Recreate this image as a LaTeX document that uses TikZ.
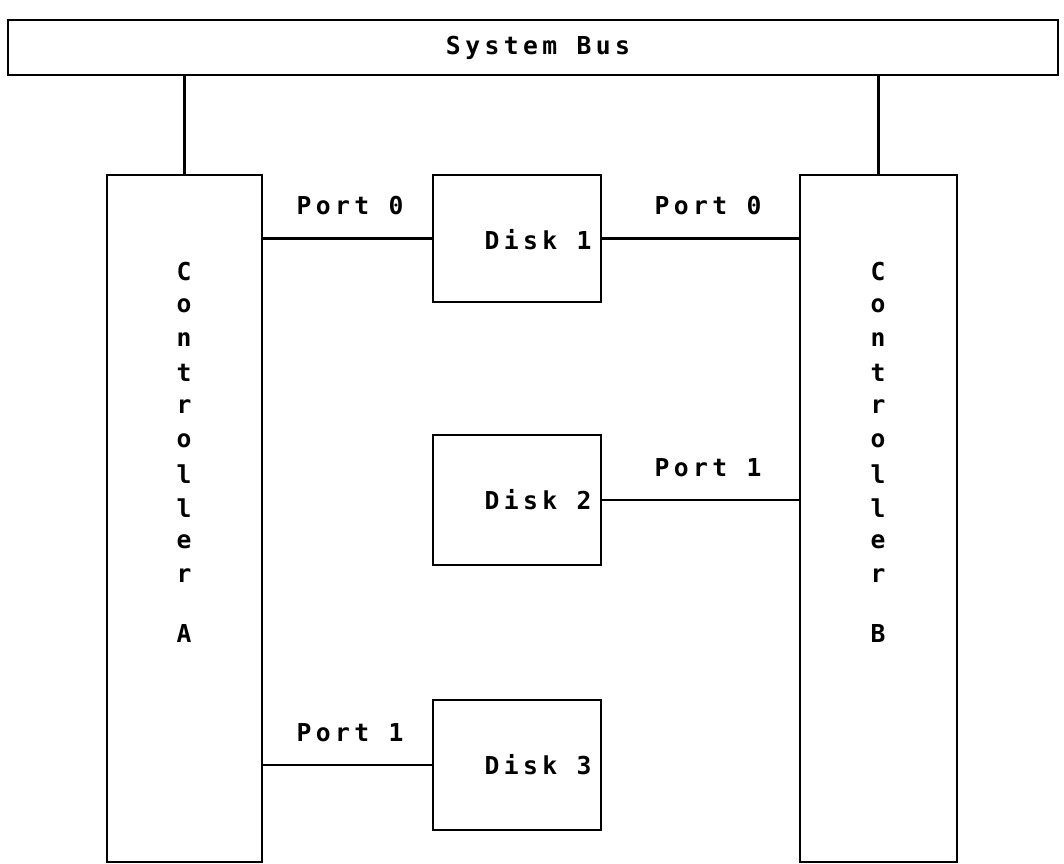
\documentclass[tikz,border=0pt]{standalone}
\usepackage{fontspec}
\newfontfamily\plotfont[LetterSpace=18]{DejaVu Sans Mono}
\begin{document}
\begin{tikzpicture}[x=0.75pt,y=-0.75pt,
  box/.style={draw,line width=1.6pt,inner sep=0pt},
  txt/.style={inner sep=0pt,font=\plotfont\bfseries\fontsize{18.5pt}{20pt}\selectfont},
  wire/.style={line width=1.6pt}]
\useasboundingbox (0,0) rectangle (1064,864);
\node[box,minimum width=787.5pt,minimum height=41.25pt] (bus) at (533,47.5) {};
\node[txt] (bustxt) at (538,47.5) {System Bus};
\node[box,minimum width=116.25pt,minimum height=515.25pt] (ca) at (184.5,518.5) {};
\node[box,minimum width=117.75pt,minimum height=515.25pt] (cb) at (878.5,518.5) {};
\node[box,minimum width=126pt,minimum height=95.25pt] (d1) at (517,238.5) {};
\node[box,minimum width=126pt,minimum height=97.5pt] (d2) at (517,500) {};
\node[box,minimum width=126pt,minimum height=97.5pt] (d3) at (517,765) {};
\node[txt] (d1t) at (538,240) {Disk 1};
\node[txt] (d2t) at (538,500) {Disk 2};
\node[txt] (d3t) at (538,765) {Disk 3};
\draw[wire] (ca.north) -- (ca.north |- bus.south);
\draw[wire] (cb.north) -- (cb.north |- bus.south);
\draw[wire] (d1.west) -- (d1.west -| ca.east);
\draw[wire] (d1.east) -- (d1.east -| cb.west);
\draw[wire] (d2.east) -- (d2.east -| cb.west);
\draw[wire] (d3.west) -- (d3.west -| ca.east);
\node[txt] (p1) at (350,206) {Port 0};
\node[txt] (p2) at (708,206) {Port 0};
\node[txt] (p3) at (708,468) {Port 1};
\node[txt] (p4) at (350,733) {Port 1};
\foreach \ch [count=\i from 0] in {C,o,n,t,r,o,l,l,e,r}{
  \node[txt] (la\i) at (184,272+33.7*\i) {\ch};
  \node[txt] (lb\i) at (878,272+33.7*\i) {\ch};
}
\node[txt] (laA) at (184,633) {A};
\node[txt] (lbB) at (878,633) {B};
\end{tikzpicture}
\end{document}
